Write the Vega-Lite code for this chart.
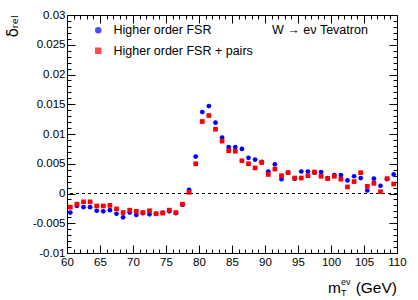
{
  "$schema": "https://vega.github.io/schema/vega-lite/v6.json",
  "width": 330,
  "height": 238,
  "autosize": "none",
  "padding": {"left": 67, "top": 15, "right": 21, "bottom": 47},
  "background": "white",
  "config": {
    "font": "Liberation Sans",
    "view": {"stroke": "black", "strokeWidth": 1},
    "axis": {"domain": false, "grid": false, "tickColor": "black", "tickWidth": 1, "labelColor": "black", "labelFont": "Liberation Sans", "labelFontSize": 11.5, "labelOverlap": false, "labelFlush": false, "labelBound": false, "titleColor": "black"}
  },
  "datasets": {
    "bins": [
      {"m":60.5,"fsr":-0.0032,"pairs":-0.0023},
      {"m":61.5,"fsr":-0.0021,"pairs":-0.0018},
      {"m":62.5,"fsr":-0.0023,"pairs":-0.0014},
      {"m":63.5,"fsr":-0.0023,"pairs":-0.0014},
      {"m":64.5,"fsr":-0.0029,"pairs":-0.0021},
      {"m":65.5,"fsr":-0.0030,"pairs":-0.0021},
      {"m":66.5,"fsr":-0.0028,"pairs":-0.0020},
      {"m":67.5,"fsr":-0.0034,"pairs":-0.0026},
      {"m":68.5,"fsr":-0.0040,"pairs":-0.0032},
      {"m":69.5,"fsr":-0.0032,"pairs":-0.0028},
      {"m":70.5,"fsr":-0.0036,"pairs":-0.0030},
      {"m":71.5,"fsr":-0.0033,"pairs":-0.0032},
      {"m":72.5,"fsr":-0.0035,"pairs":-0.0029},
      {"m":73.5,"fsr":-0.0034,"pairs":-0.0034},
      {"m":74.5,"fsr":-0.0032,"pairs":-0.0033},
      {"m":75.5,"fsr":-0.0030,"pairs":-0.0028},
      {"m":76.5,"fsr":-0.0033,"pairs":-0.0032},
      {"m":77.5,"fsr":-0.0019,"pairs":-0.0018},
      {"m":78.5,"fsr":0.0006,"pairs":0.0002},
      {"m":79.5,"fsr":0.0062,"pairs":0.0050},
      {"m":80.5,"fsr":0.0137,"pairs":0.0121},
      {"m":81.5,"fsr":0.0147,"pairs":0.0131},
      {"m":82.5,"fsr":0.0119,"pairs":0.0108},
      {"m":83.5,"fsr":0.0094,"pairs":0.0088},
      {"m":84.5,"fsr":0.0078,"pairs":0.0072},
      {"m":85.5,"fsr":0.0078,"pairs":0.0071},
      {"m":86.5,"fsr":0.0075,"pairs":0.0055},
      {"m":87.5,"fsr":0.0060,"pairs":0.0050},
      {"m":88.5,"fsr":0.0057,"pairs":0.0043},
      {"m":89.5,"fsr":0.0053,"pairs":0.0052},
      {"m":90.5,"fsr":0.0037,"pairs":0.0032},
      {"m":91.5,"fsr":0.0049,"pairs":0.0041},
      {"m":92.5,"fsr":0.0024,"pairs":0.0030},
      {"m":93.5,"fsr":0.0035,"pairs":0.0035},
      {"m":94.5,"fsr":0.0025,"pairs":0.0026},
      {"m":95.5,"fsr":0.0037,"pairs":0.0026},
      {"m":96.5,"fsr":0.0037,"pairs":0.0030},
      {"m":97.5,"fsr":0.0035,"pairs":0.0036},
      {"m":98.5,"fsr":0.0036,"pairs":0.0029},
      {"m":99.5,"fsr":0.0026,"pairs":0.0025},
      {"m":100.5,"fsr":0.0031,"pairs":0.0029},
      {"m":101.5,"fsr":0.0031,"pairs":0.0024},
      {"m":102.5,"fsr":0.0022,"pairs":0.0011},
      {"m":103.5,"fsr":0.0029,"pairs":0.0020},
      {"m":104.5,"fsr":0.0026,"pairs":0.0035},
      {"m":105.5,"fsr":0.0005,"pairs":0.0012},
      {"m":106.5,"fsr":0.0025,"pairs":0.0017},
      {"m":107.5,"fsr":0.0013,"pairs":0.0003},
      {"m":108.5,"fsr":0.0024,"pairs":0.0025},
      {"m":109.5,"fsr":0.0032,"pairs":0.0016}
    ],
    "one": [{"n": 1}]
  },
  "layer": [
    {
      "data": {"name": "one"},
      "mark": {"type": "rule", "color": "black", "strokeWidth": 1, "strokeDash": [3, 3]},
      "encoding": {"y": {"datum": 0, "type": "quantitative", "axis": null}}
    },
    {
      "data": {"name": "bins"},
      "transform": [{"fold": ["fsr", "pairs"], "as": ["key", "d"]}],
      "mark": {"type": "point", "shape": "M-1,0H1M0,-0.6V0.6", "filled": false, "strokeWidth": 1, "strokeOpacity": 0.25, "size": 44},
      "encoding": {
        "x": {"field": "m", "type": "quantitative", "scale": {"domain": [60, 110], "nice": false, "zero": false},
              "axis": {"orient": "bottom", "values": [60,65,70,75,80,85,90,95,100,105,110], "tickSize": -8, "labelPadding": 11, "labelFontSize": 11.5, "title": null}},
        "y": {"field": "d", "type": "quantitative", "scale": {"domain": [-0.01, 0.03], "nice": false, "zero": false},
              "axis": {"orient": "left", "values": [-0.01,-0.005,0,0.005,0.01,0.015,0.02,0.025,0.03], "labelExpr": "'' + datum.value", "tickSize": -8, "labelPadding": 10, "labelFontSize": 11.5,
                       "title": "δᵣₑₗ", "titleFont": "DejaVu Sans", "titleFontSize": 15, "titleFontWeight": "normal", "titleAngle": 270, "titleAlign": "right", "titleBaseline": "middle", "titleX": -55, "titleY": 0}},
        "color": {"field": "key", "type": "nominal", "scale": {"domain": ["fsr", "pairs"], "range": ["#0000ff", "#ff0000"]}}
      }
    },
    {
      "data": {"name": "bins"},
      "transform": [{"fold": ["fsr", "pairs"], "as": ["key", "d"]}],
      "mark": {"type": "point", "filled": true, "opacity": 1, "size": 22},
      "encoding": {
        "x": {"field": "m", "type": "quantitative", "axis": {"orient": "bottom", "values": [61,62,63,64,66,67,68,69,71,72,73,74,76,77,78,79,81,82,83,84,86,87,88,89,91,92,93,94,96,97,98,99,101,102,103,104,106,107,108,109], "tickSize": -4, "labels": false, "title": null}},
        "y": {"field": "d", "type": "quantitative", "axis": {"orient": "left", "values": [-0.009,-0.008,-0.007,-0.006,-0.004,-0.003,-0.002,-0.001,0.001,0.002,0.003,0.004,0.006,0.007,0.008,0.009,0.011,0.012,0.013,0.014,0.016,0.017,0.018,0.019,0.021,0.022,0.023,0.024,0.026,0.027,0.028,0.029], "tickSize": -4, "labels": false, "title": null}},
        "color": {"field": "key", "type": "nominal",
                  "legend": {"title": null, "orient": "none", "legendX": 25, "legendY": 9, "padding": 0, "labelFont": "Liberation Sans", "labelFontSize": 12.5, "labelColor": "black", "rowPadding": 7.5, "labelOffset": 9, "symbolSize": 25,
                             "labelExpr": "datum.value == 'fsr' ? 'Higher order FSR' : 'Higher order FSR + pairs'"}},
        "shape": {"field": "key", "type": "nominal", "scale": {"domain": ["fsr", "pairs"], "range": ["circle", "square"]}}
      }
    },
    {
      "data": {"name": "bins"},
      "transform": [{"fold": ["fsr", "pairs"], "as": ["key", "d"]}],
      "mark": {"type": "point", "opacity": 0},
      "encoding": {
        "x": {"field": "m", "type": "quantitative", "axis": {"orient": "top", "values": [60,65,70,75,80,85,90,95,100,105,110], "tickSize": -8, "labels": false, "title": null}},
        "y": {"field": "d", "type": "quantitative", "axis": {"orient": "right", "values": [-0.01,-0.005,0,0.005,0.01,0.015,0.02,0.025,0.03], "tickSize": -8, "labels": false, "title": null}}
      }
    },
    {
      "data": {"name": "bins"},
      "transform": [{"fold": ["fsr", "pairs"], "as": ["key", "d"]}],
      "mark": {"type": "point", "opacity": 0},
      "encoding": {
        "x": {"field": "m", "type": "quantitative", "axis": {"orient": "top", "values": [61,62,63,64,66,67,68,69,71,72,73,74,76,77,78,79,81,82,83,84,86,87,88,89,91,92,93,94,96,97,98,99,101,102,103,104,106,107,108,109], "tickSize": -4, "labels": false, "title": null}},
        "y": {"field": "d", "type": "quantitative", "axis": {"orient": "right", "values": [-0.009,-0.008,-0.007,-0.006,-0.004,-0.003,-0.002,-0.001,0.001,0.002,0.003,0.004,0.006,0.007,0.008,0.009,0.011,0.012,0.013,0.014,0.016,0.017,0.018,0.019,0.021,0.022,0.023,0.024,0.026,0.027,0.028,0.029], "tickSize": -4, "labels": false, "title": null}}
      }
    },
    {
      "data": {"name": "one"},
      "mark": {"type": "text", "text": "W → eν  Tevatron", "align": "left", "baseline": "middle", "fontSize": 12.5, "font": "Liberation Sans", "color": "black"},
      "encoding": {"x": {"datum": 91.06, "type": "quantitative", "axis": null}, "y": {"datum": 0.0275, "type": "quantitative", "axis": null}}
    },
    {
      "data": {"name": "one"},
      "mark": {"type": "text", "text": "(GeV)", "align": "right", "baseline": "middle", "fontSize": 15.5, "font": "Liberation Sans", "color": "black", "dy": 35},
      "encoding": {"x": {"datum": 110, "type": "quantitative", "axis": null}, "y": {"datum": -0.01, "type": "quantitative", "axis": null}}
    },
    {
      "data": {"name": "one"},
      "mark": {"type": "text", "text": "m", "align": "left", "baseline": "middle", "fontSize": 15.5, "font": "Liberation Sans", "color": "black", "dx": -69, "dy": 35},
      "encoding": {"x": {"datum": 110, "type": "quantitative", "axis": null}, "y": {"datum": -0.01, "type": "quantitative", "axis": null}}
    },
    {
      "data": {"name": "one"},
      "mark": {"type": "text", "text": "T", "align": "left", "baseline": "middle", "fontSize": 9, "font": "Liberation Sans", "color": "black", "dx": -56, "dy": 40},
      "encoding": {"x": {"datum": 110, "type": "quantitative", "axis": null}, "y": {"datum": -0.01, "type": "quantitative", "axis": null}}
    },
    {
      "data": {"name": "one"},
      "mark": {"type": "text", "text": "eν", "align": "left", "baseline": "middle", "fontSize": 9, "font": "Liberation Sans", "color": "black", "dx": -56, "dy": 29},
      "encoding": {"x": {"datum": 110, "type": "quantitative", "axis": null}, "y": {"datum": -0.01, "type": "quantitative", "axis": null}}
    }
  ],
  "resolve": {"axis": {"x": "independent", "y": "independent"}}
}
